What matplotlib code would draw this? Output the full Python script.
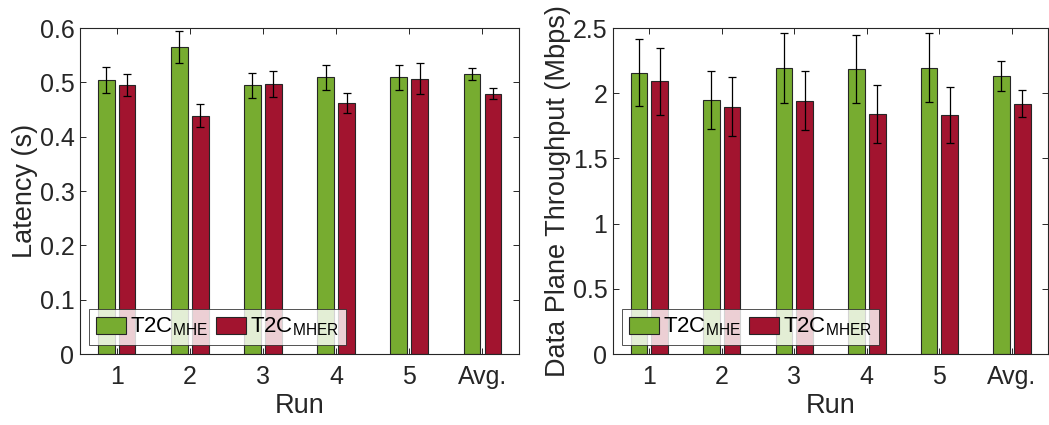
import numpy as np
import matplotlib
matplotlib.use("Agg")
import matplotlib.pyplot as plt

plt.rcParams["font.family"] = ["Liberation Sans", "DejaVu Sans"]
plt.rcParams["mathtext.fontset"] = "custom"
plt.rcParams["mathtext.rm"] = "Liberation Sans"

runs = ["1", "2", "3", "4", "5", "Avg."]

latency_mhe = [0.504, 0.565, 0.495, 0.509, 0.509, 0.516]
latency_mher = [0.495, 0.439, 0.497, 0.462, 0.507, 0.479]
latency_mhe_err = [0.024, 0.029, 0.023, 0.023, 0.023, 0.011]
latency_mher_err = [0.020, 0.021, 0.024, 0.018, 0.028, 0.010]

tput_mhe = [2.157, 1.949, 2.192, 2.187, 2.195, 2.133]
tput_mher = [2.092, 1.898, 1.944, 1.839, 1.834, 1.921]
tput_mhe_err = [0.258, 0.225, 0.269, 0.260, 0.265, 0.115]
tput_mher_err = [0.257, 0.229, 0.223, 0.222, 0.215, 0.102]

green = "#77AC30"
red = "#A2142F"
dark = "#262626"
label_mhe = r"T2C$_\mathregular{MHE}$"
label_mher = r"T2C$_\mathregular{MHER}$"


def bar_panel(ax, a, b, a_err, b_err, ylim, yticks, yticklabels, ylabel):
    x = np.arange(1, len(runs) + 1)
    w = 0.23
    off = 0.143
    ax.bar(x - off, a, w, color=green, edgecolor=dark, linewidth=0.8,
           label=label_mhe, zorder=2)
    ax.bar(x + off, b, w, color=red, edgecolor=dark, linewidth=0.8,
           label=label_mher, zorder=2)
    ax.errorbar(x - off, a, yerr=a_err, fmt="none", ecolor="black",
                elinewidth=0.9, capsize=3, capthick=0.9, zorder=3)
    ax.errorbar(x + off, b, yerr=b_err, fmt="none", ecolor="black",
                elinewidth=0.9, capsize=3, capthick=0.9, zorder=3)

    ax.set_xlim(0.5, 6.5)
    ax.set_ylim(*ylim)
    ax.set_xticks(x)
    ax.set_xticklabels(runs)
    ax.set_yticks(yticks)
    ax.set_yticklabels(yticklabels)
    ax.tick_params(direction="in", top=True, right=True, length=4,
                   width=0.7, colors=dark, labelsize=18, pad=4)
    ax.tick_params(axis="x", pad=8)
    for s in ax.spines.values():
        s.set_color(dark)
        s.set_linewidth(0.8)
    ax.set_xlabel("Run", fontsize=19.5, color=dark, labelpad=3)
    ax.set_ylabel(ylabel, fontsize=19.5, color=dark, labelpad=1)

    leg = ax.legend(loc="lower left", ncol=2, fontsize=16, frameon=True,
                    fancybox=False, edgecolor=dark, handlelength=1.35,
                    handleheight=0.8, handletextpad=0.2, columnspacing=0.35,
                    borderpad=0.3, borderaxespad=0.4)
    leg.get_frame().set_linewidth(0.7)
    for t in leg.get_texts():
        t.set_color("black")


fig = plt.figure(figsize=(10.49, 4.25), dpi=100)
ax1 = fig.add_axes([0.0763, 0.167, 0.4185, 0.767])
ax2 = fig.add_axes([0.5844, 0.167, 0.4147, 0.767])

bar_panel(ax1, latency_mhe, latency_mher, latency_mhe_err, latency_mher_err,
          (0, 0.6), [0, 0.1, 0.2, 0.3, 0.4, 0.5, 0.6],
          ["0", "0.1", "0.2", "0.3", "0.4", "0.5", "0.6"], "Latency (s)")
bar_panel(ax2, tput_mhe, tput_mher, tput_mhe_err, tput_mher_err,
          (0, 2.5), [0, 0.5, 1, 1.5, 2, 2.5],
          ["0", "0.5", "1", "1.5", "2", "2.5"], "Data Plane Throughput (Mbps)")

fig.savefig("out.png", dpi=100)
